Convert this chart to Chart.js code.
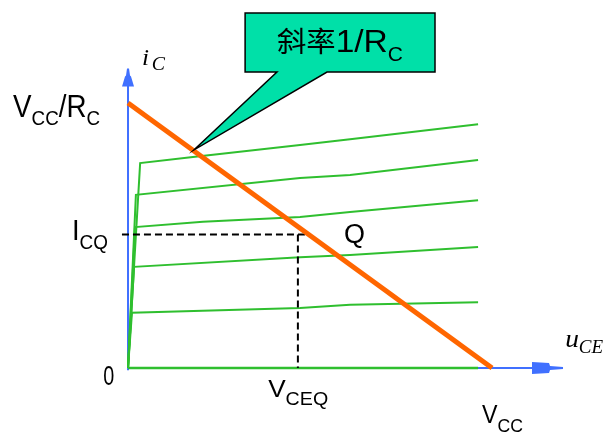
<!DOCTYPE html>
<html>
<head>
<meta charset="utf-8">
<script src="https://cdn.jsdelivr.net/npm/chart.js@4.4.1/dist/chart.umd.min.js"></script>
<style>
html,body{margin:0;padding:0;background:#fff;}
#wrap{width:607px;height:434px;}
</style>
</head>
<body>
<div id="wrap"><canvas id="c" width="607" height="434"></canvas></div>
<script>
// ---- data (u_CE units with V_CC = 12, i_C units with V_CC/R_C = 6) ----
const VCC = 12;
const VCC_RC = 6;
const ICQ = 3.02;
const VCEQ = 5.6;
const curve1 = [[0,0],[0.40,4.64],[2.14,4.78],[5.67,5.05],[7.32,5.18],[11.54,5.52]];
const curve2 = [[0,0],[0.26,3.92],[5.67,4.30],[7.32,4.37],[11.54,4.71]];
const curve3 = [[0,0],[0.23,3.19],[2.47,3.31],[5.67,3.42],[7.32,3.53],[11.54,3.80]];
const curve4 = [[0,0],[0.20,2.29],[5.67,2.51],[7.32,2.56],[11.54,2.74]];
const curve5 = [[0,0],[0.13,1.25],[5.67,1.36],[7.32,1.43],[11.54,1.49]];
const curve6 = [[0,0],[11.54,0]];
const yAxisTop = 6.78;
const xAxisEnd = 14.34;
const slopeText = ["斜率", "1/R", "C"];
const yTickLabels = [["V","CC","/","R","C"], ["I","CQ"], ["0"]];
const xTickLabels = [["V","CEQ"], ["V","CC"]];
const qLabel = "Q";
const axisNames = [["i","C"], ["u","CE"]];

const pts = a => a.map(p => ({x:p[0], y:p[1]}));
const qEndX = VCC * (1 - ICQ / VCC_RC);

const GREEN = '#2fbf2f', BLUE = '#4070ff', ORANGE = '#ff6600';
const SANS = '"Liberation Sans", Arial, sans-serif';
const SERIF = '"Liberation Serif", "Times New Roman", serif';
const CJK = '"Noto Sans CJK SC", sans-serif';

function line(data, color, width, order, dash){
  return {data: pts(data), borderColor: color, borderWidth: width, pointRadius: 0,
          fill: false, tension: 0, order: order, borderDash: dash || [], borderCapStyle: 'butt'};
}

function drawRich(ctx, parts, x, y, targetW){
  let nat = 0;
  const ws = parts.map(p => { ctx.font = p.f; const w = ctx.measureText(p.t).width; nat += w; return w; });
  const s = targetW ? targetW / nat : 1;
  ctx.save();
  ctx.translate(x, y);
  ctx.scale(s, 1);
  ctx.fillStyle = '#000';
  ctx.textBaseline = 'alphabetic';
  ctx.textAlign = 'left';
  let cx = 0;
  parts.forEach((p, i) => { ctx.font = p.f; ctx.fillText(p.t, cx, p.dy || 0); cx += ws[i]; });
  ctx.restore();
}

const deco = {
  id: 'deco',
  afterDatasetsDraw(chart){
    const ctx = chart.ctx, X = v => chart.scales.x.getPixelForValue(v), Y = v => chart.scales.y.getPixelForValue(v);
    ctx.save();
    // y axis arrow
    const tx = X(0), ty = Y(yAxisTop);
    ctx.fillStyle = BLUE;
    ctx.beginPath();
    [[-1,0],[1,0],[2,7],[3,8],[6,18],[-6,18],[-3,8],[-2,7]].forEach((o,i)=>{ i?ctx.lineTo(tx+o[0],ty+o[1]):ctx.moveTo(tx+o[0],ty+o[1]); });
    ctx.closePath(); ctx.fill();
    // x axis arrow
    const ax = X(xAxisEnd), ay = Y(0);
    ctx.beginPath();
    [[0,-1],[-13,-2],[-14,-5],[-31,-6],[-31,6],[-14,5],[-13,2],[0,1]].forEach((o,i)=>{ i?ctx.lineTo(ax+o[0],ay+o[1]):ctx.moveTo(ax+o[0],ay+o[1]); });
    ctx.closePath(); ctx.fill();

    // callout
    const bx0 = X(3.86), bx1 = X(10.12), by0 = Y(8.04), by1 = Y(6.70);
    const tl = X(4.91), tr = X(6.56), tipx = X(2.18), tipy = Y(4.94);
    ctx.beginPath();
    ctx.moveTo(bx0, by0); ctx.lineTo(bx1, by0); ctx.lineTo(bx1, by1); ctx.lineTo(tr, by1);
    ctx.lineTo(tipx, tipy); ctx.lineTo(tl, by1); ctx.lineTo(bx0, by1); ctx.closePath();
    ctx.fillStyle = '#00e0a8'; ctx.fill();
    ctx.strokeStyle = '#000'; ctx.lineWidth = 1.5; ctx.lineJoin = 'miter'; ctx.stroke();
    ctx.restore();

    // texts
    drawRich(ctx, [{t:slopeText[0], f:'28px '+CJK},{t:slopeText[1], f:'32px '+SANS},{t:slopeText[2], f:'20px '+SANS, dy:9}], X(4.91), Y(7.15), 126);
    const L = yTickLabels[0];
    drawRich(ctx, [{t:L[0],f:'31px '+SANS},{t:L[1],f:'21px '+SANS,dy:8},{t:L[2],f:'31px '+SANS},{t:L[3],f:'31px '+SANS},{t:L[4],f:'21px '+SANS,dy:8}], X(-3.79), Y(5.68), 87);
    const I = yTickLabels[1];
    drawRich(ctx, [{t:I[0],f:'29px '+SANS},{t:I[1],f:'20px '+SANS,dy:9}], X(-1.85), Y(2.90), 36);
    drawRich(ctx, [{t:yTickLabels[2][0],f:'27px '+SANS}], X(-0.82), Y(-0.385), 11);
    const V1 = xTickLabels[0];
    drawRich(ctx, [{t:V1[0],f:'24px '+SANS},{t:V1[1],f:'18px '+SANS,dy:8}], X(4.62), Y(-0.657), 60);
    const V2 = xTickLabels[1];
    drawRich(ctx, [{t:V2[0],f:'25px '+SANS},{t:V2[1],f:'19px '+SANS,dy:9}], X(11.67), Y(-1.245), 41);
    drawRich(ctx, [{t:qLabel,f:'27px '+SANS}], X(7.12), Y(2.83), 21);
    const A1 = axisNames[0];
    drawRich(ctx, [{t:A1[0],f:'italic 23px '+SERIF},{t:' ',f:'italic 10px '+SERIF},{t:A1[1],f:'italic 18px '+SERIF,dy:5}], X(0.46), Y(6.86), 23);
    const A2 = axisNames[1];
    drawRich(ctx, [{t:A2[0],f:'italic 26px '+SERIF},{t:A2[1],f:'italic 18px '+SERIF,dy:6}], X(14.41), Y(0.475), 38);
  }
};

new Chart(document.getElementById('c'), {
  type: 'line',
  data: {
    datasets: [
      line([[0, VCC_RC],[VCC, 0]], ORANGE, 5, 0),
      line([[-0.2, ICQ],[qEndX, ICQ]], '#000', 2, 1, [7,4]),
      line([[VCEQ, ICQ],[VCEQ, 0]], '#000', 2, 1, [7,4]),
      line(curve1, GREEN, 2, 2),
      line(curve2, GREEN, 2, 2),
      line(curve3, GREEN, 2, 2),
      line(curve4, GREEN, 2, 2),
      line(curve5, GREEN, 2, 2),
      line(curve6, GREEN, 2.5, 2),
      line([[0,-0.05],[0,yAxisTop-0.35]], BLUE, 2, 3),
      line([[0,0],[xAxisEnd-0.6,0]], BLUE, 2, 3)
    ]
  },
  options: {
    responsive: false,
    animation: false,
    events: [],
    layout: {padding: 0},
    plugins: {legend: {display: false}, tooltip: {enabled: false}},
    scales: {
      x: {type: 'linear', min: -4.22, max: 15.79, display: false},
      y: {type: 'linear', min: -1.494, max: 8.332, display: false}
    }
  },
  plugins: [deco]
});
</script>
</body>
</html>
